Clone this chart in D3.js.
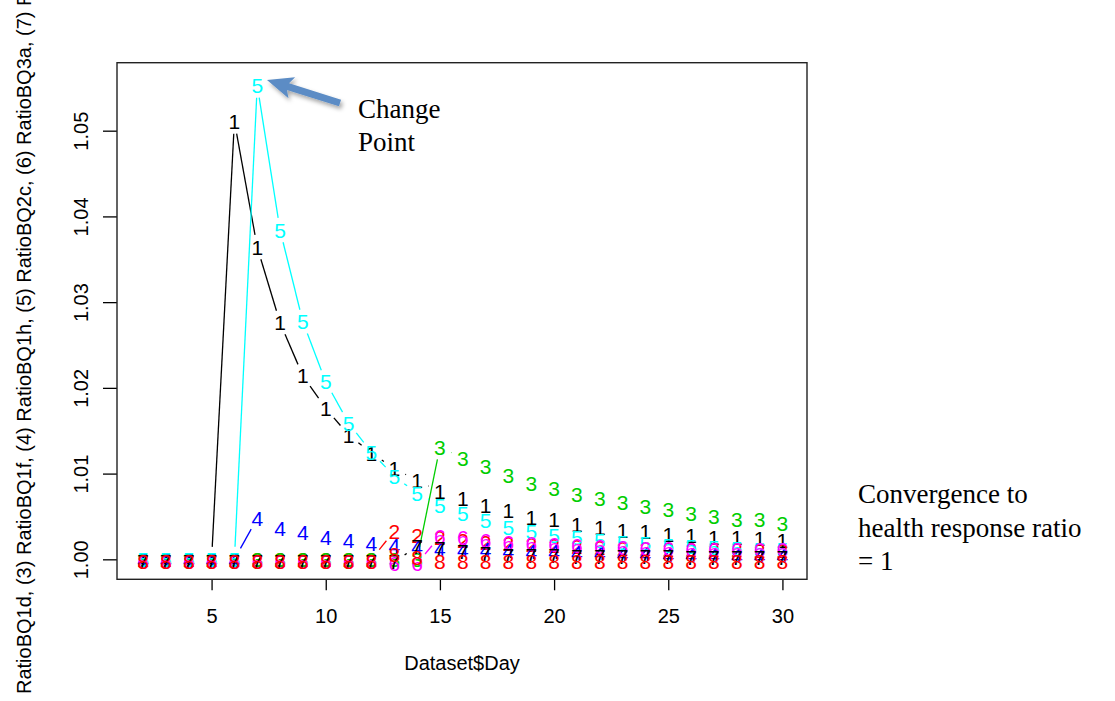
<!DOCTYPE html>
<html>
<head>
<meta charset="utf-8">
<script src="https://cdn.jsdelivr.net/npm/d3@7"></script>
<style>
  body { margin: 0; background: #fff; }
  svg text { font-family: "Liberation Sans", Arial, sans-serif; }
</style>
</head>
<body>
<div id="graph"></div>
<script>
// x values (Dataset$Day)
const days = [2, 3, 4, 5, 6, 7, 8, 9, 10, 11, 12, 13, 14, 15, 16,
              17, 18, 19, 20, 21, 22, 23, 24, 25, 26, 27, 28, 29, 30];

// one array per plotted column
const ratio1 = [1.0000, 1.0000, 1.0000, 1.0000, 1.0511, 1.0364, 1.0276, 1.0214, 1.0176, 1.0145,
                1.0124, 1.0106, 1.0092, 1.0079, 1.0071, 1.0063, 1.0057, 1.0049, 1.0046, 1.0041,
                1.0037, 1.0034, 1.0032, 1.0029, 1.0028, 1.0026, 1.0025, 1.0024, 1.0022];
const ratio2 = [1.0000, 1.0000, 1.0000, 1.0000, 1.0000, 1.0000, 1.0000, 1.0000, 1.0000, 1.0000,
                1.0000, 1.0033, 1.0028, 1.0025, 1.0022, 1.0020, 1.0018, 1.0017, 1.0016, 1.0015,
                1.0014, 1.0013, 1.0013, 1.0012, 1.0012, 1.0011, 1.0011, 1.0010, 1.0010];
const ratio3 = [1.0000, 1.0000, 1.0000, 1.0000, 1.0000, 1.0000, 1.0000, 1.0000, 1.0000, 1.0000,
                1.0000, 1.0000, 1.0000, 1.0131, 1.0118, 1.0108, 1.0098, 1.0089, 1.0083, 1.0076,
                1.0071, 1.0066, 1.0062, 1.0058, 1.0053, 1.0050, 1.0047, 1.0046, 1.0042];
const ratio4 = [1.0000, 1.0000, 1.0000, 1.0000, 1.0000, 1.0048, 1.0036, 1.0031, 1.0025, 1.0022,
                1.0019, 1.0016, 1.0015, 1.0013, 1.0012, 1.0011, 1.0010, 1.0009, 1.0009, 1.0008,
                1.0008, 1.0007, 1.0007, 1.0006, 1.0006, 1.0006, 1.0005, 1.0005, 1.0005];
const ratio5 = [1.0000, 1.0000, 1.0000, 1.0000, 1.0000, 1.0553, 1.0384, 1.0277, 1.0207, 1.0159,
                1.0125, 1.0097, 1.0077, 1.0063, 1.0054, 1.0045, 1.0037, 1.0032, 1.0028, 1.0025,
                1.0022, 1.0020, 1.0018, 1.0016, 1.0015, 1.0014, 1.0013, 1.0012, 1.0011];
const ratio6 = [0.9998, 0.9998, 0.9998, 0.9998, 0.9998, 0.9998, 0.9998, 0.9998, 0.9998, 0.9998,
                0.9998, 0.9995, 0.9995, 1.0027, 1.0025, 1.0022, 1.0020, 1.0018, 1.0017, 1.0016,
                1.0015, 1.0014, 1.0013, 1.0013, 1.0012, 1.0012, 1.0011, 1.0011, 1.0011];
const ratio7 = [0.9997, 0.9997, 0.9997, 0.9997, 0.9997, 0.9997, 0.9997, 0.9997, 0.9997, 0.9997,
                0.9997, 0.9997, 1.0015, 1.0013, 1.0009, 1.0007, 1.0005, 1.0004, 1.0004, 1.0003,
                1.0003, 1.0003, 1.0003, 1.0003, 1.0002, 1.0002, 1.0002, 1.0002, 1.0002];
const ratio8 = [0.9997, 0.9997, 0.9997, 0.9997, 0.9997, 0.9997, 0.9997, 0.9997, 0.9997, 0.9997,
                0.9997, 1.0006, 1.0002, 0.9998, 0.9998, 0.9998, 0.9998, 0.9998, 0.9998, 0.9998,
                0.9998, 0.9998, 0.9998, 0.9998, 0.9998, 0.9998, 0.9998, 0.9998, 0.9998];

const symbols = ["1", "2", "3", "4", "5", "6", "7", "8"];
const colors = ["#000000", "#FF0000", "#00CD00", "#0000FF", "#00FFFF", "#FF00FF", "#000000", "#FF0000"];
const xTicks = [5, 10, 15, 20, 25, 30];
const yTicks = [1.00, 1.01, 1.02, 1.03, 1.04, 1.05];

const yTitle = "RatioBQ1d, (3) RatioBQ1f, (4) RatioBQ1h, (5) RatioBQ2c, (6) RatioBQ3a, (7) R";
const xTitle = "Dataset$Day";

const series = [ratio1, ratio2, ratio3, ratio4, ratio5, ratio6, ratio7, ratio8].map(function(v, i) {
    return {values: v, sym: symbols[i], color: colors[i]};
});

const w = 1115,
      h = 701;

const vis = d3.select("#graph")
    .append("svg")
    .attr("width", w)
    .attr("height", h);

const boxLeft = 117, boxRight = 807, boxTop = 62.7, boxBottom = 579.3;

const x = d3.scaleLinear().domain([0.88, 31.12]).range([117.5, 808]);
const y = d3.scaleLinear().domain([0.99767, 1.05793]).range([boxBottom, boxTop]);

// shadow for the arrow
vis.append("defs").append("filter")
    .attr("id", "shadow")
    .attr("x", "-20%").attr("y", "-40%").attr("width", "160%").attr("height", "200%")
    .append("feDropShadow")
    .attr("dx", 2).attr("dy", 3)
    .attr("stdDeviation", 2)
    .attr("flood-color", "#000")
    .attr("flood-opacity", 0.35);

// x axis
const xAxis = vis.append("g")
    .attr("transform", "translate(0," + boxBottom + ")")
    .call(d3.axisBottom(x).tickValues(xTicks).tickSize(11).tickFormat(d3.format("d")));
xAxis.select(".domain").remove();
xAxis.selectAll("line").attr("stroke", "#000").attr("stroke-width", 1.3);
xAxis.selectAll("text")
    .attr("y", 44)
    .attr("dy", 0)
    .attr("font-size", 20)
    .attr("font-family", "Liberation Sans, Arial, sans-serif")
    .attr("fill", "#000");

// y axis with rotated labels
const yAxis = vis.append("g")
    .attr("transform", "translate(" + boxLeft + ",0)")
    .call(d3.axisLeft(y).tickValues(yTicks).tickSize(14).tickFormat(d3.format(".2f")));
yAxis.select(".domain").remove();
yAxis.selectAll("line").attr("stroke", "#000").attr("stroke-width", 1.3);
yAxis.selectAll("text")
    .attr("transform", "rotate(-90)")
    .attr("x", 0)
    .attr("y", -29)
    .attr("dy", 0)
    .attr("text-anchor", "middle")
    .attr("font-size", 20)
    .attr("font-family", "Liberation Sans, Arial, sans-serif")
    .attr("fill", "#000");

// axis titles
vis.append("text")
    .attr("x", (boxLeft + boxRight) / 2)
    .attr("y", 670)
    .attr("text-anchor", "middle")
    .attr("font-size", 20)
    .text(xTitle);

vis.append("text")
    .attr("transform", "translate(31,694) rotate(-90)")
    .attr("text-anchor", "start")
    .attr("font-size", 20)
    .text(yTitle);

// type "b": lines broken around each symbol
const gap = 12.5;
function gapSegments(vals) {
    const pts = vals.map(function(v, i) { return [x(days[i]), y(v)]; });
    const segs = [];
    for (let i = 0; i < pts.length - 1; i++) {
        const dx = pts[i + 1][0] - pts[i][0],
              dy = pts[i + 1][1] - pts[i][1],
              len = Math.hypot(dx, dy);
        if (len <= 2 * gap) continue;
        const ux = dx / len, uy = dy / len;
        segs.push({x1: pts[i][0] + ux * gap, y1: pts[i][1] + uy * gap,
                   x2: pts[i + 1][0] - ux * gap, y2: pts[i + 1][1] - uy * gap});
    }
    return segs;
}

const groups = vis.selectAll("g.series")
    .data(series)
    .enter()
    .append("g")
    .attr("class", "series");

groups.each(function(s) {
    const g = d3.select(this);
    g.selectAll("line")
        .data(gapSegments(s.values))
        .enter()
        .append("line")
        .attr("x1", function(d) { return d.x1; })
        .attr("y1", function(d) { return d.y1; })
        .attr("x2", function(d) { return d.x2; })
        .attr("y2", function(d) { return d.y2; })
        .attr("stroke", s.color)
        .attr("stroke-width", 1.3);
    g.selectAll("text")
        .data(s.values)
        .enter()
        .append("text")
        .attr("x", function(d, i) { return x(days[i]); })
        .attr("y", function(d) { return y(d); })
        .attr("dy", "0.36em")
        .attr("text-anchor", "middle")
        .attr("font-size", 21)
        .attr("fill", s.color)
        .text(s.sym);
});

// plot box
vis.append("rect")
    .attr("x", boxLeft)
    .attr("y", boxTop)
    .attr("width", boxRight - boxLeft)
    .attr("height", boxBottom - boxTop)
    .attr("fill", "none")
    .attr("stroke", "#222")
    .attr("stroke-width", 1.4);

// annotations
const tip = [267, 80], tail = [340, 103];
const len = Math.hypot(tail[0] - tip[0], tail[1] - tip[1]);
const u = [(tail[0] - tip[0]) / len, (tail[1] - tip[1]) / len],
      n = [-u[1], u[0]];
function pt(base, along, across) {
    return [base[0] + u[0] * along + n[0] * across, base[1] + u[1] * along + n[1] * across];
}
const headLen = 22, headW = 11, shaftW = 3.5;
const arrowPts = [
    tip,
    pt(tip, headLen + 4, headW),
    pt(tip, headLen, shaftW),
    pt(tail, 0, shaftW),
    pt(tail, 0, -shaftW),
    pt(tip, headLen, -shaftW),
    pt(tip, headLen + 4, -headW)
];
vis.append("polygon")
    .attr("points", arrowPts.map(function(p) { return p.join(","); }).join(" "))
    .attr("fill", "#5b8cc5")
    .attr("filter", "url(#shadow)");

const note1 = ["Change", "Point"];
vis.selectAll("text.note1")
    .data(note1)
    .enter()
    .append("text")
    .attr("class", "note1")
    .attr("x", 358)
    .attr("y", function(d, i) { return 118 + i * 33; })
    .attr("font-size", 27)
    .style("font-family", "Liberation Serif, Times New Roman, serif")
    .text(function(d) { return d; });

const note2 = ["Convergence to", "health response ratio", "= 1"];
vis.selectAll("text.note2")
    .data(note2)
    .enter()
    .append("text")
    .attr("class", "note2")
    .attr("x", 858)
    .attr("y", function(d, i) { return 503 + i * 33.5; })
    .attr("font-size", 27)
    .style("font-family", "Liberation Serif, Times New Roman, serif")
    .text(function(d) { return d; });
</script>
</body>
</html>
